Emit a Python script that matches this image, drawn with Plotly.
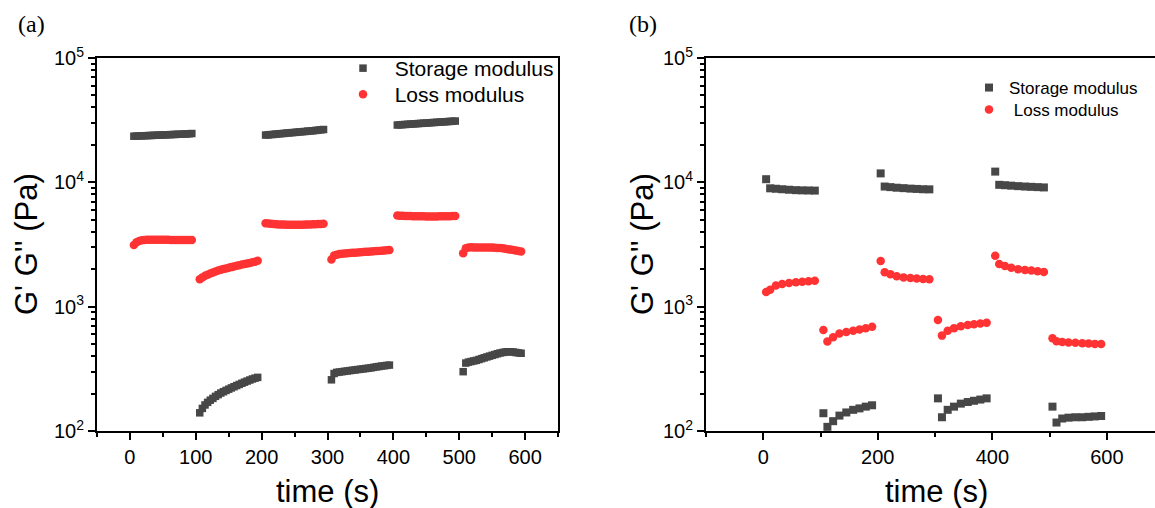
import plotly.graph_objects as go

# ---------------- Panel (a) data ----------------
time_a = [6, 10, 14, 18, 22, 26, 30, 34, 38, 42, 46, 50, 54, 58, 62, 66, 70, 74, 78, 82, 86, 90, 94,
          106, 110, 114, 118, 122, 126, 130, 134, 138, 142, 146, 150, 154, 158, 162, 166, 170, 174, 178, 182, 186, 190, 194,
          206, 210, 214, 218, 222, 226, 230, 234, 238, 242, 246, 250, 254, 258, 262, 266, 270, 274, 278, 282, 286, 290, 294,
          306, 310, 314, 318, 322, 326, 330, 334, 338, 342, 346, 350, 354, 358, 362, 366, 370, 374, 378, 382, 386, 390, 394,
          406, 410, 414, 418, 422, 426, 430, 434, 438, 442, 446, 450, 454, 458, 462, 466, 470, 474, 478, 482, 486, 490, 494,
          506, 510, 514, 518, 522, 526, 530, 534, 538, 542, 546, 550, 554, 558, 562, 566, 570, 574, 578, 582, 586, 590, 594]

storage_a = [23500, 23550, 23600, 23650, 23700, 23750, 23800, 23850, 23900, 23950, 24000, 24050, 24100, 24150, 24200, 24250, 24300, 24350, 24400, 24450, 24500, 24600, 24700,
             140, 152, 162, 170, 177, 183, 190, 196, 202, 207, 212, 217, 222, 227, 232, 237, 242, 247, 252, 257, 262, 266, 270,
             24000, 24100, 24200, 24300, 24450, 24550, 24650, 24750, 24900, 25000, 25100, 25200, 25350, 25450, 25550, 25650, 25800, 25900, 26000, 26150, 26300, 26450, 26600,
             258, 290, 296, 298, 300, 302, 304, 306, 308, 310, 312, 314, 316, 318, 320, 322, 325, 328, 330, 333, 335, 337, 339,
             28900, 29000, 29100, 29200, 29300, 29400, 29500, 29600, 29700, 29800, 29900, 30000, 30100, 30200, 30300, 30400, 30500, 30600, 30700, 30800, 30900, 31000, 31100,
             300, 352, 358, 362, 366, 370, 376, 382, 388, 394, 400, 406, 412, 418, 424, 428, 432, 434, 434, 432, 428, 425, 422]

loss_a = [3130, 3300, 3380, 3420, 3440, 3450, 3455, 3460, 3460, 3460, 3455, 3450, 3450, 3450, 3445, 3445, 3440, 3440, 3440, 3440, 3440, 3440, 3440,
          1660, 1720, 1770, 1810, 1850, 1885, 1920, 1950, 1980, 2005, 2030, 2055, 2080, 2105, 2130, 2155, 2180, 2200, 2225, 2250, 2275, 2300, 2340,
          4680, 4660, 4640, 4620, 4600, 4590, 4580, 4570, 4560, 4555, 4550, 4550, 4550, 4555, 4560, 4570, 4580, 4590, 4600, 4610, 4620, 4630, 4640,
          2400, 2580, 2620, 2650, 2670, 2680, 2690, 2700, 2710, 2720, 2730, 2740, 2750, 2760, 2770, 2780, 2790, 2800, 2810, 2820, 2830, 2840, 2850,
          5400, 5390, 5380, 5370, 5360, 5350, 5340, 5340, 5330, 5330, 5330, 5320, 5320, 5320, 5320, 5320, 5330, 5330, 5330, 5340, 5340, 5350, 5360,
          2690, 2950, 2990, 3000, 2990, 2990, 2990, 2990, 2990, 2990, 2990, 2985, 2980, 2970, 2960, 2945, 2925, 2900, 2880, 2860, 2830, 2800, 2780]

# ---------------- Panel (b) data ----------------
time_b = [5, 12, 22, 33, 45, 57, 68, 79, 90,
          105, 112, 122, 133, 145, 157, 168, 179, 190,
          205, 212, 222, 233, 245, 257, 268, 279, 290,
          305, 312, 322, 333, 345, 357, 368, 379, 390,
          405, 412, 422, 433, 445, 457, 468, 479, 490,
          505, 512, 522, 533, 545, 557, 568, 579, 590]

storage_b = [10600, 8950, 8880, 8800, 8720, 8650, 8620, 8600, 8580,
             139, 108, 120, 133, 141, 148, 152, 157, 161,
             11800, 9250, 9150, 9050, 8980, 8900, 8850, 8800, 8780,
             183, 129, 148, 157, 166, 171, 175, 179, 183,
             12200, 9550, 9480, 9400, 9320, 9250, 9200, 9150, 9100,
             157, 117, 126, 128, 129, 129, 130, 131, 132]

loss_b = [1310, 1370, 1480, 1520, 1550, 1570, 1585, 1600, 1615,
          650, 525, 567, 608, 626, 640, 655, 670, 688,
          2330, 1890, 1820, 1760, 1720, 1700, 1685, 1670, 1660,
          782, 585, 641, 672, 695, 712, 722, 732, 743,
          2570, 2200, 2120, 2060, 2000, 1975, 1955, 1930, 1900,
          557, 528, 520, 515, 512, 508, 505, 502, 500]

y_tickvals = [100, 1000, 10000, 100000]
y_ticktext = ["10<sup>2</sup>", "10<sup>3</sup>", "10<sup>4</sup>", "10<sup>5</sup>"]
y_minor = [m * 10 ** e for e in (2, 3, 4) for m in range(2, 10)]

GREY = "#474747"
RED = "#ff3333"
FONT = "Liberation Sans, Arial, sans-serif"
SERIF = "Liberation Serif, Times New Roman, serif"
W, H = 1155, 508
NB = "\u00a0"

fig = go.Figure()
fig.add_trace(go.Scatter(x=time_a, y=storage_a, mode="markers", name=NB * 2 + "Storage modulus",
                         marker=dict(symbol="square", size=7.5, color=GREY), showlegend=True,
                         xaxis="x", yaxis="y", legend="legend"))
fig.add_trace(go.Scatter(x=time_a, y=loss_a, mode="markers", name=NB * 2 + "Loss modulus",
                         marker=dict(symbol="circle", size=8.5, color=RED), showlegend=True,
                         xaxis="x", yaxis="y", legend="legend2"))
fig.add_trace(go.Scatter(x=time_b, y=storage_b, mode="markers", name="Storage modulus",
                         marker=dict(symbol="square", size=8, color=GREY), showlegend=True,
                         xaxis="x2", yaxis="y2", legend="legend3"))
fig.add_trace(go.Scatter(x=time_b, y=loss_b, mode="markers", name=NB + "Loss modulus",
                         marker=dict(symbol="circle", size=8.5, color=RED), showlegend=True,
                         xaxis="x2", yaxis="y2", legend="legend4"))


def px_x(p):
    return p / W


def px_y(p):
    return 1 - p / H


ydom = [px_y(431), px_y(58)]

common_x = dict(showgrid=False, zeroline=False, showline=True, linecolor="black", linewidth=2,
                mirror=True, ticks="outside", ticklen=7, tickwidth=2, tickcolor="black",
                automargin=False,
                tickfont=dict(family=FONT, size=20, color="black"))
common_y = dict(type="log", range=[2, 5], showgrid=False, zeroline=False, showline=True,
                linecolor="black", linewidth=2, ticks="outside", ticklen=7, tickwidth=2,
                tickcolor="black", tickvals=y_tickvals, ticktext=y_ticktext, automargin=False,
                tickfont=dict(family=FONT, size=20, color="black"),
                minor=dict(ticks="outside", ticklen=4, tickwidth=1.5, tickcolor="black",
                           tickvals=y_minor))


def leg(x, y_top, size):
    return dict(x=px_x(x), y=px_y(y_top), xanchor="left", yanchor="top", visible=True,
                font=dict(family=FONT, size=size, color="black"), bgcolor="rgba(0,0,0,0)",
                borderwidth=0)


fig.update_layout(
    width=W, height=H, margin=dict(l=0, r=0, t=0, b=0, autoexpand=False),
    paper_bgcolor="white", plot_bgcolor="white", showlegend=True,
    xaxis=dict(domain=[px_x(97), px_x(558)], range=[-50, 650], dtick=100, tick0=0, anchor="y",
               minor=dict(ticks="outside", ticklen=4, tickwidth=2, tickcolor="black", dtick=50),
               **common_x),
    yaxis=dict(domain=ydom, anchor="x", mirror=True, **common_y),
    xaxis2=dict(domain=[px_x(706), 1.0], range=[-100, 684], dtick=200, tick0=0, anchor="y2",
                minor=dict(ticks="outside", ticklen=4, tickwidth=2, tickcolor="black", dtick=100),
                **common_x),
    yaxis2=dict(domain=ydom, anchor="x2", mirror=False, **common_y),
    legend=leg(343, 48, 21),
    legend2=leg(343, 74, 21),
    legend3=leg(969, 70, 17),
    legend4=leg(969, 92, 17),
    annotations=[
        dict(text="(a)", x=px_x(16), y=px_y(24), xref="paper", yref="paper", xanchor="left",
             yanchor="middle", showarrow=False, font=dict(family=SERIF, size=24, color="black")),
        dict(text="(b)", x=px_x(627), y=px_y(24), xref="paper", yref="paper", xanchor="left",
             yanchor="middle", showarrow=False, font=dict(family=SERIF, size=24, color="black")),
        dict(text="time (s)", x=px_x(327), y=px_y(491), xref="paper", yref="paper", xanchor="center",
             yanchor="middle", showarrow=False, font=dict(family=FONT, size=31, color="black")),
        dict(text="time (s)", x=px_x(936), y=px_y(491), xref="paper", yref="paper", xanchor="center",
             yanchor="middle", showarrow=False, font=dict(family=FONT, size=31, color="black")),
        dict(text="G' G'' (Pa)", x=px_x(26), y=px_y(244), xref="paper", yref="paper", xanchor="center",
             yanchor="middle", textangle=-90, showarrow=False, font=dict(family=FONT, size=31, color="black")),
        dict(text="G' G'' (Pa)", x=px_x(642), y=px_y(244), xref="paper", yref="paper", xanchor="center",
             yanchor="middle", textangle=-90, showarrow=False, font=dict(family=FONT, size=31, color="black")),
    ],
)

fig.write_html("out.html")
